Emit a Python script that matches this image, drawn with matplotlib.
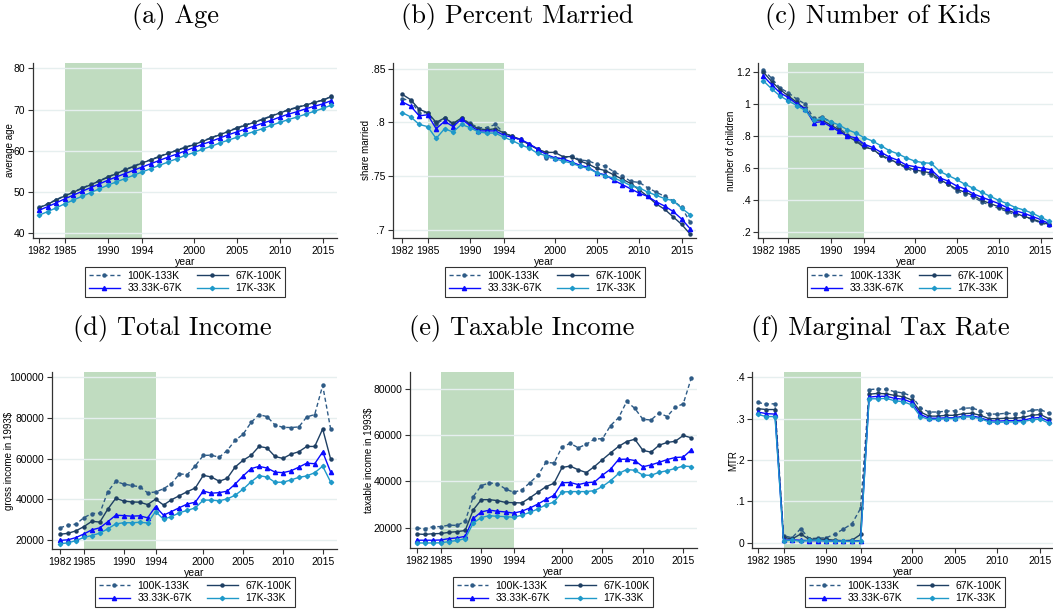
import matplotlib
matplotlib.use("Agg")
import matplotlib.pyplot as plt

plt.rcParams['font.family'] = ['Liberation Sans', 'DejaVu Sans']

years = list(range(1982, 2017))
groups = ['100K-133K', '67K-100K', '33.33K-67K', '17K-33K']

# (a) average age
age_100 = [46.3, 47.2, 48.2, 49.2, 50.1, 51.0, 51.9, 52.8, 53.7, 54.6, 55.5, 56.3, 57.2, 57.9, 58.7, 59.5, 60.2, 60.9,
           61.6, 62.4, 63.2, 64.0, 64.8, 65.6, 66.3, 67.0, 67.7, 68.5, 69.3, 70.0, 70.6, 71.2, 71.8, 72.3, 73.1]
age_67 = [46.2, 47.1, 48.1, 49.1, 50.0, 50.9, 51.8, 52.7, 53.6, 54.5, 55.4, 56.2, 57.1, 57.8, 58.6, 59.4, 60.1, 60.8,
          61.5, 62.3, 63.1, 63.9, 64.7, 65.5, 66.2, 66.9, 67.6, 68.4, 69.2, 69.9, 70.5, 71.1, 71.7, 72.3, 73.2]
age_33 = [45.6, 46.5, 47.4, 48.4, 49.3, 50.2, 51.1, 52.0, 52.9, 53.7, 54.5, 55.3, 56.1, 56.9, 57.7, 58.5, 59.2, 60.0,
          60.8, 61.6, 62.3, 63.1, 63.9, 64.6, 65.3, 66.0, 66.7, 67.4, 68.2, 68.9, 69.5, 70.2, 70.8, 71.4, 72.2]
age_17 = [44.4, 45.3, 46.2, 47.2, 48.1, 49.0, 49.9, 50.8, 51.7, 52.5, 53.3, 54.1, 54.9, 55.7, 56.5, 57.3, 58.1, 58.9,
          59.6, 60.4, 61.1, 61.9, 62.6, 63.3, 64.0, 64.7, 65.4, 66.2, 66.9, 67.6, 68.2, 68.9, 69.6, 70.3, 71.1]

# (b) share married
mar_100 = [.822, .820, .809, .809, .798, .804, .798, .804, .799, .795, .795, .798, .790, .787, .783, .780, .775, .767,
           .767, .766, .769, .765, .764, .761, .759, .754, .750, .745, .744, .739, .735, .731, .727, .721, .707]
mar_67 = [.826, .821, .812, .809, .800, .804, .799, .804, .798, .794, .793, .794, .790, .787, .784, .779, .775, .772,
          .772, .768, .768, .764, .761, .757, .755, .751, .747, .743, .737, .731, .724, .719, .712, .705, .696]
mar_33 = [.819, .815, .806, .807, .794, .801, .796, .803, .797, .792, .792, .792, .788, .786, .784, .780, .775, .770,
          .767, .766, .763, .760, .758, .753, .751, .746, .742, .738, .734, .731, .726, .722, .717, .710, .701]
mar_17 = [.809, .805, .798, .796, .785, .794, .791, .798, .795, .791, .790, .790, .786, .783, .779, .776, .771, .769,
          .766, .764, .762, .759, .757, .753, .750, .748, .745, .741, .739, .735, .732, .729, .727, .720, .714]

# (c) number of children
kid_100 = [1.215, 1.16, 1.10, 1.07, 1.03, 1.00, .91, .92, .89, .85, .81, .78, .74, .72, .68, .65, .63, .60,
           .58, .57, .56, .52, .50, .46, .44, .42, .39, .37, .35, .33, .31, .30, .28, .26, .245]
kid_67 = [1.20, 1.14, 1.09, 1.05, 1.01, .97, .90, .90, .87, .84, .80, .77, .73, .72, .68, .66, .63, .61,
          .59, .58, .57, .53, .50, .47, .45, .43, .40, .38, .36, .34, .32, .30, .285, .265, .25]
kid_33 = [1.175, 1.12, 1.07, 1.04, 1.00, .97, .885, .89, .86, .83, .80, .79, .75, .73, .70, .67, .65, .62,
          .61, .60, .59, .54, .52, .49, .47, .44, .42, .40, .38, .355, .335, .32, .30, .28, .255]
kid_17 = [1.145, 1.095, 1.05, 1.02, .99, .96, .90, .91, .89, .87, .84, .82, .79, .77, .74, .71, .69, .665,
          .645, .635, .63, .58, .555, .53, .50, .475, .45, .425, .40, .38, .355, .34, .32, .295, .27]

# (d) gross income in 1993$
inc_100 = [26000, 27300, 27800, 31000, 33000, 33200, 43800, 48800, 47500, 46800, 46200, 43200, 43600, 45200, 47700,
           52500, 52200, 56500, 61600, 61700, 60700, 64000, 69000, 72000, 77800, 81600, 80700, 76600, 75400, 75300,
           75600, 80500, 81700, 96000, 74600]
inc_67 = [22800, 23300, 24500, 26600, 29200, 28800, 35200, 40500, 39200, 38700, 38600, 37400, 40100, 37200, 39800,
          41800, 43800, 45600, 51800, 51000, 48900, 50300, 55900, 59200, 61600, 66000, 65300, 61100, 60100, 62200,
          63400, 66000, 66000, 74600, 59800]
inc_33 = [19800, 20100, 21200, 23000, 25000, 26000, 29000, 32200, 32000, 31700, 31900, 30900, 36400, 32200, 34000,
          35900, 37700, 38600, 44100, 43000, 43300, 44000, 47500, 51500, 55100, 56200, 55400, 53400, 53100, 54000,
          55800, 57800, 57500, 63300, 53400]
inc_17 = [18200, 18600, 19700, 21300, 22200, 23400, 25500, 27900, 28500, 28500, 28700, 28400, 34000, 30200, 31500,
          33400, 34600, 35800, 39600, 39600, 39300, 40200, 42000, 45000, 48600, 51600, 51000, 48400, 48400, 49500,
          50800, 51500, 53100, 56300, 48500]

# (e) taxable income in 1993$
tax_100 = [19800, 19600, 20400, 20500, 21100, 21000, 22800, 33400, 38200, 39300, 39000, 36700, 35300, 36300, 39400,
           42600, 48200, 47900, 54900, 56400, 54500, 56000, 58300, 58400, 64100, 67500, 74500, 71500, 66800, 66500,
           69500, 68000, 72000, 73500, 84700]
tax_67 = [17300, 17100, 17400, 17500, 18000, 18300, 18800, 27700, 32100, 32100, 31700, 30900, 30800, 30700, 32900,
          35300, 37700, 39200, 46000, 46600, 45000, 43800, 46400, 49400, 52300, 55100, 57200, 58200, 53400, 52600,
          55600, 56800, 57300, 59800, 58800]
tax_33 = [14600, 14600, 14600, 14700, 15300, 15600, 16300, 24000, 26800, 27600, 27100, 26800, 26300, 27100, 28500,
          30200, 32200, 34000, 39400, 39500, 38600, 39400, 39700, 42700, 45300, 49500, 49600, 49000, 46300, 47100,
          48200, 49400, 50300, 50500, 53600]
tax_17 = [13400, 13400, 13400, 13500, 14000, 14500, 15300, 22000, 24400, 25200, 24900, 24800, 24500, 25400, 26600,
          28100, 29900, 31100, 35400, 35600, 35600, 35600, 36000, 37800, 40300, 43400, 45100, 44800, 42700, 42600,
          43900, 44600, 45600, 46600, 46400]

# (f) marginal tax rate
mtr_100 = [.339, .335, .336, .017, .012, .034, .010, .011, .012, .021, .033, .046, .083, .370, .372, .371, .365, .362,
           .354, .326, .316, .316, .318, .319, .325, .326, .319, .311, .311, .313, .312, .315, .320, .322, .313]
mtr_67 = [.324, .322, .322, .013, .009, .021, .008, .009, .008, .006, .005, .006, .020, .359, .361, .360, .356, .353,
          .345, .316, .306, .306, .308, .308, .312, .313, .308, .300, .300, .301, .301, .303, .308, .310, .300]
mtr_33 = [.316, .312, .311, .006, .007, .006, .005, .005, .005, .004, .004, .004, .005, .352, .354, .354, .349, .347,
          .339, .310, .301, .301, .302, .302, .306, .307, .302, .295, .294, .295, .295, .296, .301, .303, .294]
mtr_17 = [.310, .305, .305, .004, .007, .003, .006, .006, .004, .004, .004, .003, .004, .348, .348, .349, .343, .341,
          .333, .305, .298, .298, .300, .300, .304, .304, .300, .292, .291, .292, .292, .293, .297, .299, .289]

xticks = [1982, 1985, 1990, 1994, 2000, 2005, 2010, 2015]

W, H = 1053, 609
fig = plt.figure(figsize=(W / 100, H / 100), dpi=100)

colors = ['#2e5b86', '#1e3f63', '#0a0aff', '#1f99c9']
styles = [dict(ls=(0, (3, 2)), marker='o', ms=2.2),
          dict(ls='-', marker='o', ms=2.2),
          dict(ls='-', marker='^', ms=3.0),
          dict(ls='-', marker='D', ms=2.2)]

panels = [
    # title, title pos, axes box (l, t, r, b px), xlim, ylim, yticks, tick labels, ylabel, ylabel x, legend centre, series
    ('(a) Age', (175, 17), (33, 63, 337, 238), (1981.3, 2016.65), (38.9, 81.3),
     [40, 50, 60, 70, 80], ['40', '50', '60', '70', '80'], 'average age', 10, (185, 282),
     [age_100, age_67, age_33, age_17]),
    ('(b) Percent Married', (517, 17), (392.7, 63, 696, 238), (1980.87, 2016.7), (.6923, .8552),
     [.7, .75, .8, .85], ['.7', '.75', '.8', '.85'], 'share married', 366, (545, 282),
     [mar_100, mar_67, mar_33, mar_17]),
    ('(c) Number of Kids', (878, 17), (758, 63, 1055, 238), (1981.37, 2016.72), (.165, 1.256),
     [.2, .4, .6, .8, 1, 1.2], ['.2', '.4', '.6', '.8', '1', '1.2'], 'number of children', 731, (907, 282),
     [kid_100, kid_67, kid_33, kid_17]),
    ('(d) Total Income', (172, 329), (51.7, 372.3, 337, 549.3), (1980.95, 2016.8), (15427, 102460),
     [20000, 40000, 60000, 80000, 100000], ['20000', '40000', '60000', '80000', '100000'],
     'gross income in 1993\\$', 9, (195, 592),
     [inc_100, inc_67, inc_33, inc_17]),
    ('(e) Taxable Income', (522, 329), (410, 372.3, 697, 548.3), (1981.17, 2016.7), (11110, 87080),
     [20000, 40000, 60000, 80000], ['20000', '40000', '60000', '80000'],
     'taxable income in 1993\\$', 369, (553, 592),
     [tax_100, tax_67, tax_33, tax_17]),
    ('(f) Marginal Tax Rate', (880, 329), (752.3, 372.3, 1055, 548.3), (1981.35, 2016.72), (-0.0135, .412),
     [0, .1, .2, .3, .4], ['0', '.1', '.2', '.3', '.4'], 'MTR', 733, (905, 592),
     [mtr_100, mtr_67, mtr_33, mtr_17]),
]

for (title, tpos, box, xlim, ylim, yt, ytl, ylab, ylab_x, legpos, series) in panels:
    l, t, r, b = box
    ax = fig.add_axes([l / W, 1 - b / H, (r - l) / W, (b - t) / H])
    ax.axvspan(1985, 1994, color='#c0dcc0', lw=0, zorder=0)
    for yv in yt:
        ax.axhline(yv, color='#e6efef', lw=1.0, zorder=0.5)
    lines = []
    for vals, c, st in zip(series, colors, styles):
        ln, = ax.plot(years, vals, color=c, lw=1.0, zorder=2, **st)
        lines.append(ln)
    ax.set_xlim(*xlim)
    ax.set_ylim(*ylim)
    ax.set_xticks(xticks)
    ax.set_yticks(yt)
    ax.set_yticklabels(ytl)
    ax.tick_params(labelsize=7.5, length=3.5, width=0.8, color='#333333', pad=2)
    for s in ['top', 'right']:
        ax.spines[s].set_visible(False)
    for s in ['left', 'bottom']:
        ax.spines[s].set_color('#333333')
        ax.spines[s].set_linewidth(0.9)
    ax.set_xlabel('year', fontsize=7.5, labelpad=1)
    fig.text(tpos[0] / W, 1 - tpos[1] / H, title, family='cmr10', fontsize=19,
             ha='center', va='center')
    fig.text(ylab_x / W, 1 - (t + b) / 2 / H, ylab, fontsize=7.0, rotation=90,
             ha='center', va='center')
    leg = fig.legend([lines[0], lines[2], lines[1], lines[3]],
                     [groups[0], groups[2], groups[1], groups[3]],
                     ncol=2, loc='center', bbox_to_anchor=(legpos[0] / W, 1 - legpos[1] / H),
                     fontsize=7.5, frameon=True, fancybox=False, handlelength=3.0,
                     columnspacing=1.4, handletextpad=0.7, borderpad=0.35, labelspacing=0.25)
    leg.get_frame().set_edgecolor('black')
    leg.get_frame().set_linewidth(0.8)

fig.savefig('out.png', dpi=100)
